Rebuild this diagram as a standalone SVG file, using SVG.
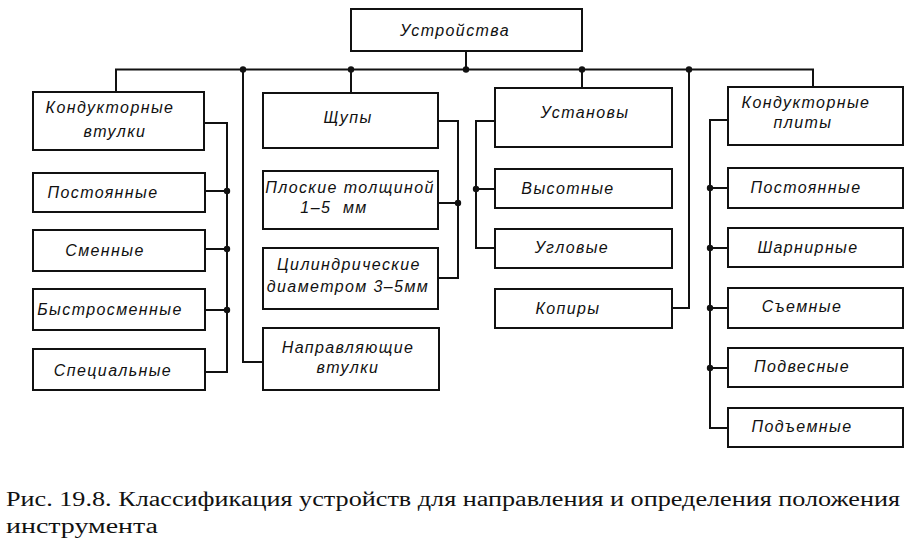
<svg xmlns="http://www.w3.org/2000/svg" width="912" height="548" viewBox="0 0 912 548">
<style>
.box{fill:#fff;stroke:#111;stroke-width:2}
.lbl{font-family:"Liberation Sans",Arial,sans-serif;font-style:italic;font-size:16px;letter-spacing:1.4px;fill:#111;text-anchor:middle}
.con{fill:none;stroke:#111;stroke-width:2}
.cap{font-family:"Liberation Serif","Times New Roman",serif;font-size:20px;fill:#111}
</style>
<rect width="912" height="548" fill="#fff"/>
<g id="connectors">
<polyline class="con" points="116,92 116,69.5 813,69.5 813,87"/>
<line class="con" x1="466" y1="51" x2="466" y2="69.5"/>
<line class="con" x1="351" y1="69.5" x2="351" y2="93"/>
<line class="con" x1="582" y1="69.5" x2="582" y2="88"/>
<polyline class="con" points="243,69.5 243,362 263,362"/>
<polyline class="con" points="689,69.5 689,308 672,308"/>
<polyline class="con" points="204,123 227,123 227,372 205,372"/>
<line class="con" x1="205" y1="191" x2="227" y2="191"/>
<line class="con" x1="205" y1="249" x2="227" y2="249"/>
<line class="con" x1="205" y1="310" x2="227" y2="310"/>
<polyline class="con" points="438,121 458,121 458,278 438,278"/>
<line class="con" x1="438" y1="203" x2="458" y2="203"/>
<polyline class="con" points="495,121 476,121 476,248 495,248"/>
<line class="con" x1="476" y1="189" x2="495" y2="189"/>
<polyline class="con" points="728,120 710,120 710,428 728,428"/>
<line class="con" x1="710" y1="188" x2="728" y2="188"/>
<line class="con" x1="710" y1="248" x2="728" y2="248"/>
<line class="con" x1="710" y1="308" x2="728" y2="308"/>
<line class="con" x1="710" y1="368" x2="728" y2="368"/>
<g fill="#111">
<circle cx="243" cy="69.5" r="3.2"/><circle cx="351" cy="69.5" r="3.2"/><circle cx="466" cy="69.5" r="3.2"/><circle cx="582" cy="69.5" r="3.2"/><circle cx="689" cy="69.5" r="3.2"/>
<circle cx="227" cy="191" r="3.2"/><circle cx="227" cy="249" r="3.2"/><circle cx="227" cy="310" r="3.2"/>
<circle cx="458" cy="203" r="3.2"/><circle cx="476" cy="189" r="3.2"/>
<circle cx="710" cy="188" r="3.2"/><circle cx="710" cy="248" r="3.2"/><circle cx="710" cy="308" r="3.2"/><circle cx="710" cy="368" r="3.2"/>
</g>
</g>
<g id="n-root"><rect class="box" x="351" y="9" width="231" height="42"/><text class="lbl" x="455" y="36">Устройства</text></g>
<g id="n-kv"><rect class="box" x="33" y="92" width="171" height="58"/><text class="lbl" x="110" y="113">Кондукторные</text><text class="lbl" x="115" y="137">втулки</text></g>
<g id="n-kv1"><rect class="box" x="33" y="173" width="172" height="39"/><text class="lbl" x="103" y="198">Постоянные</text></g>
<g id="n-kv2"><rect class="box" x="33" y="230" width="172" height="41"/><text class="lbl" x="105" y="256">Сменные</text></g>
<g id="n-kv3"><rect class="box" x="33" y="289" width="172" height="41"/><text class="lbl" x="110" y="315">Быстросменные</text></g>
<g id="n-kv4"><rect class="box" x="33" y="349" width="172" height="41"/><text class="lbl" x="113" y="376">Специальные</text></g>
<g id="n-sh"><rect class="box" x="263" y="93" width="175" height="55"/><text class="lbl" x="348" y="123">Щупы</text></g>
<g id="n-sh1"><rect class="box" x="263" y="171" width="175" height="58"/><text class="lbl" x="350" y="193">Плоские толщиной</text><text class="lbl" x="334" y="213" xml:space="preserve">1–5  мм</text></g>
<g id="n-sh2"><rect class="box" x="263" y="248" width="175" height="61"/><text class="lbl" x="349" y="270">Цилиндрические</text><text class="lbl" x="348" y="292">диаметром 3–5мм</text></g>
<g id="n-nv"><rect class="box" x="263" y="328" width="176" height="62"/><text class="lbl" x="348" y="353">Направляющие</text><text class="lbl" x="348" y="373">втулки</text></g>
<g id="n-us"><rect class="box" x="495" y="88" width="177" height="59"/><text class="lbl" x="585" y="118">Установы</text></g>
<g id="n-us1"><rect class="box" x="495" y="169" width="177" height="39"/><text class="lbl" x="568" y="194">Высотные</text></g>
<g id="n-us2"><rect class="box" x="495" y="229" width="177" height="39"/><text class="lbl" x="572" y="253">Угловые</text></g>
<g id="n-kp"><rect class="box" x="495" y="289" width="177" height="39"/><text class="lbl" x="568" y="314">Копиры</text></g>
<g id="n-pl"><rect class="box" x="728" y="87" width="175" height="58"/><text class="lbl" x="806" y="108">Кондукторные</text><text class="lbl" x="803" y="128">плиты</text></g>
<g id="n-pl1"><rect class="box" x="728" y="168" width="175" height="40"/><text class="lbl" x="806" y="193">Постоянные</text></g>
<g id="n-pl2"><rect class="box" x="728" y="228" width="175" height="39"/><text class="lbl" x="808" y="253">Шарнирные</text></g>
<g id="n-pl3"><rect class="box" x="728" y="288" width="175" height="40"/><text class="lbl" x="802" y="312">Съемные</text></g>
<g id="n-pl4"><rect class="box" x="728" y="348" width="175" height="39"/><text class="lbl" x="802" y="372">Подвесные</text></g>
<g id="n-pl5"><rect class="box" x="728" y="408" width="175" height="39"/><text class="lbl" x="802" y="432">Подъемные</text></g>
<text class="cap" x="6" y="506" textLength="894" lengthAdjust="spacingAndGlyphs">Рис. 19.8.  Классификация устройств для направления и определения положения</text>
<text class="cap" x="6" y="533" textLength="152" lengthAdjust="spacingAndGlyphs">инструмента</text>
</svg>
